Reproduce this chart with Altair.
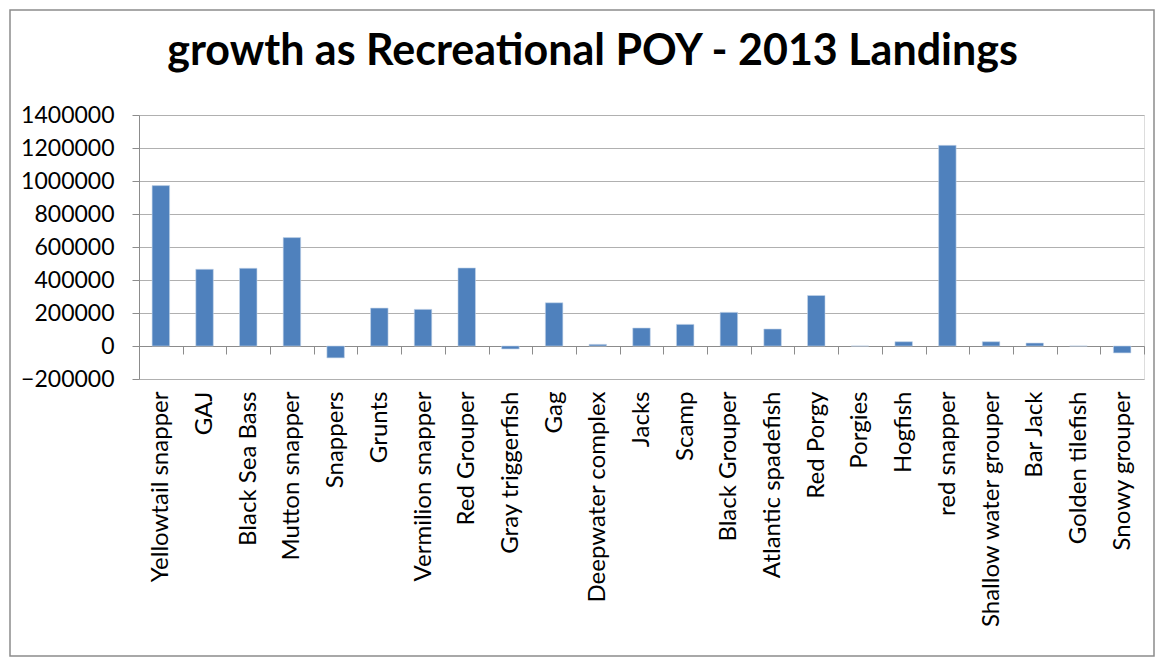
import altair as alt
import pandas as pd

species = ["Yellowtail snapper", "GAJ", "Black Sea Bass", "Mutton snapper", "Snappers",
           "Grunts", "Vermilion snapper", "Red Grouper", "Gray triggerfish", "Gag",
           "Deepwater complex", "Jacks", "Scamp", "Black Grouper", "Atlantic spadefish",
           "Red Porgy", "Porgies", "Hogfish", "red snapper", "Shallow water grouper",
           "Bar Jack", "Golden tilefish", "Snowy grouper"]
values = [972000, 465000, 471000, 657000, -72000,
          230000, 222000, 473000, -18000, 262000,
          10000, 109000, 131000, 204000, 103000,
          306000, 0, 26000, 1216000, 26000,
          18000, 0, -42000]
y_ticks = [-200000, 0, 200000, 400000, 600000, 800000, 1000000, 1200000, 1400000]
title_text = ["growth as Recreational POY - 2013 Landings"]

df = pd.DataFrame({"species": species, "value": values})

FONT = "Lato"
W, H = 1005, 264

bars = alt.Chart(df).mark_bar(
    color="#4F81BD", stroke="#c5d5ea", strokeWidth=0.6,
    width=alt.RelativeBandSize(0.4)
).encode(
    x=alt.X("species:N", sort=species,
            scale=alt.Scale(paddingInner=0, paddingOuter=0),
            axis=alt.Axis(title=None, labelAngle=-90, offset=-33, tickBand="extent",
                          tickSize=8, tickColor="#8c8c8c", domainColor="#8c8c8c",
                          labelPadding=37, labelFontSize=24, labelFont=FONT,
                          labelColor="black", labelLimit=0, grid=False)),
    y=alt.Y("value:Q", scale=alt.Scale(domain=[-200000, 1400000], nice=False),
            axis=alt.Axis(title=None, values=y_ticks, format="d", tickSize=7,
                          tickColor="#8c8c8c", domainColor="#8c8c8c",
                          gridColor="#b0b0b0", gridWidth=1.2,
                          labelFontSize=23, labelFont=FONT, labelColor="black",
                          labelPadding=18)),
    tooltip=["species", "value"]
)

border = alt.Chart(alt.Data(values=[{"a": 1}])).mark_rect(
    fill=None, stroke="#8c8c8c", strokeWidth=1.5
).encode(
    x=alt.value(-129), x2=alt.value(1015),
    y=alt.value(-105), y2=alt.value(541)
)

title = alt.Chart(pd.DataFrame({"t": title_text})).mark_text(
    font=FONT, fontSize=43, fontWeight="bold", color="black",
    align="center", baseline="alphabetic"
).encode(
    text="t:N", x=alt.value(453.5), y=alt.value(-50)
)

chart = alt.layer(border, bars, title).properties(
    width=W, height=H,
    autosize=alt.AutoSizeParams(type="none"),
    padding={"left": 131, "top": 107, "right": 12, "bottom": 279}
).configure_view(stroke=None).configure(background="white")

chart.save("out.html", embed_options={"renderer": "svg", "actions": False})
